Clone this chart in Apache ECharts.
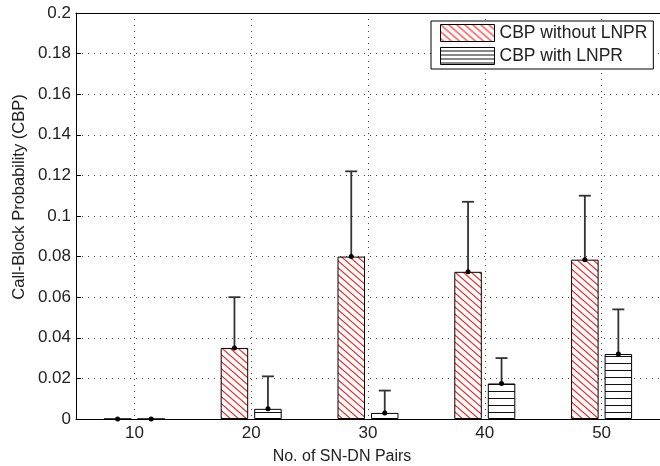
<!DOCTYPE html>
<html><head><meta charset="utf-8">
<script src="https://cdn.jsdelivr.net/npm/echarts@6/dist/echarts.min.js"></script>
<style>html,body{margin:0;padding:0;background:#fff}#c{width:660px;height:466px}</style>
</head><body><div id="c"></div>
<script>
const categories = ['10', '20', '30', '40', '50'];
const withoutLNPR = [0, 0.035, 0.080, 0.0725, 0.0785];
const withoutLNPRUpper = [0, 0.060, 0.122, 0.107, 0.110];
const withLNPR = [0, 0.005, 0.003, 0.0175, 0.032];
const withLNPRUpper = [0, 0.021, 0.014, 0.030, 0.054];
const yMin = 0, yMax = 0.2, yStep = 0.02;
const seriesNames = ['CBP without LNPR', 'CBP with LNPR'];
const xTitle = 'No. of SN-DN Pairs';
const yTitle = 'Call-Block Probability (CBP)';

const BAR_W = 27.5, GAP = 6;
const FONT = '"Liberation Sans", Arial, sans-serif';

function hatchDiag(){
  const w = 8, h = 7;
  const c = document.createElement('canvas'); c.width = w; c.height = h;
  const g = c.getContext('2d');
  g.fillStyle = '#fff'; g.fillRect(0, 0, w, h);
  g.strokeStyle = '#f22'; g.lineWidth = 1.2;
  g.beginPath();
  for (let k = -1; k <= 1; k++) { g.moveTo(k*w - 1, -1 * h/w); g.lineTo(k*w + w + 1, h + h/w); }
  g.stroke();
  return c;
}
function hatchHoriz(period){
  const c = document.createElement('canvas'); c.width = 4; c.height = period;
  const g = c.getContext('2d');
  g.fillStyle = '#fff'; g.fillRect(0, 0, 4, period);
  g.fillStyle = '#111'; g.fillRect(0, period - 1, 4, 1);
  return c;
}
const redPat = { image: hatchDiag(), repeat: 'repeat' };
const blkPat = { image: hatchHoriz(7), repeat: 'repeat' };
const blkLegPat = { image: hatchHoriz(4), repeat: 'repeat' };

function errSeries(vals, upper, sign){
  return {
    type: 'custom', z: 5, silent: true,
    data: vals.map((v, i) => [i, v, upper[i]]),
    encode: { x: 0, y: [1, 2] },
    renderItem(params, api){
      const i = api.value(0), v = api.value(1), u = api.value(2);
      const p = api.coord([i, v]), q = api.coord([i, u]);
      const x = p[0] + sign * (BAR_W + GAP) / 2;
      const ch = [];
      if (u > v) {
        ch.push({ type: 'line', shape: { x1: x, y1: p[1], x2: x, y2: q[1] }, style: { stroke: '#333', lineWidth: 1.8 } });
        ch.push({ type: 'line', shape: { x1: x - 6, y1: q[1], x2: x + 6, y2: q[1] }, style: { stroke: '#333', lineWidth: 1.8 } });
      }
      ch.push({ type: 'circle', shape: { cx: x, cy: p[1], r: 2.5 }, style: { fill: '#000' } });
      return { type: 'group', children: ch };
    }
  };
}

const chart = echarts.init(document.getElementById('c'), null, { renderer: 'canvas' });
chart.setOption({
  animation: false,
  backgroundColor: '#fff',
  textStyle: { fontFamily: FONT },
  grid: { left: 76, top: 13, width: 587, height: 406 },
  legend: {
    orient: 'vertical', left: 431, top: 21,
    itemWidth: 54, itemHeight: 17, itemGap: 5,
    padding: [3, 6, 4, 9],
    borderColor: '#000', borderWidth: 1, backgroundColor: '#fff',
    textStyle: { fontSize: 17.5, color: '#222', fontFamily: FONT },
    data: [
      { name: seriesNames[0], icon: 'rect', itemStyle: { color: redPat, borderColor: '#000', borderWidth: 1 } },
      { name: seriesNames[1], icon: 'rect', itemStyle: { color: blkLegPat, borderColor: '#000', borderWidth: 1 } }
    ]
  },
  xAxis: [{
    type: 'category', data: categories, position: 'bottom',
    axisLine: { lineStyle: { color: '#000', width: 1 } },
    axisTick: { inside: true, alignWithLabel: true, length: 5, lineStyle: { color: '#000' } },
    axisLabel: { fontSize: 17, color: '#222', margin: 6, fontFamily: FONT },
    splitLine: { show: true, alignWithLabel: true, lineStyle: { color: '#444', type: [1, 5], width: 1 } }
  }, {
    type: 'category', data: categories, position: 'top',
    axisLine: { lineStyle: { color: '#000', width: 1 } },
    axisTick: { inside: true, alignWithLabel: true, length: 5, lineStyle: { color: '#000' } },
    axisLabel: { show: false }, splitLine: { show: false }
  }],
  yAxis: {
    type: 'value', min: yMin, max: yMax, interval: yStep,
    axisLine: { show: true, lineStyle: { color: '#000', width: 1 } },
    axisTick: { show: true, inside: true, length: 5, lineStyle: { color: '#000' } },
    axisLabel: { fontSize: 17, color: '#222', margin: 5, fontFamily: FONT },
    splitLine: { show: true, lineStyle: { color: '#444', type: [1, 5], width: 1 } }
  },
  graphic: [
    { type: 'text', x: 342, y: 457, style: { text: xTitle, font: '16px ' + FONT, fill: '#222', align: 'center', verticalAlign: 'middle' } },
    { type: 'text', x: 19, y: 197, rotation: Math.PI / 2, style: { text: yTitle, font: '16.5px ' + FONT, fill: '#222', align: 'center', verticalAlign: 'middle' } }
  ],
  series: [
    { name: seriesNames[0], type: 'bar', data: withoutLNPR, barWidth: BAR_W, barGap: (GAP / BAR_W * 100) + '%',
      itemStyle: { color: redPat, borderColor: '#000', borderWidth: 1 } },
    { name: seriesNames[1], type: 'bar', data: withLNPR, barWidth: BAR_W,
      itemStyle: { color: blkPat, borderColor: '#000', borderWidth: 1 } },
    errSeries(withoutLNPR, withoutLNPRUpper, -1),
    errSeries(withLNPR, withLNPRUpper, 1)
  ]
});
</script>
</body></html>
